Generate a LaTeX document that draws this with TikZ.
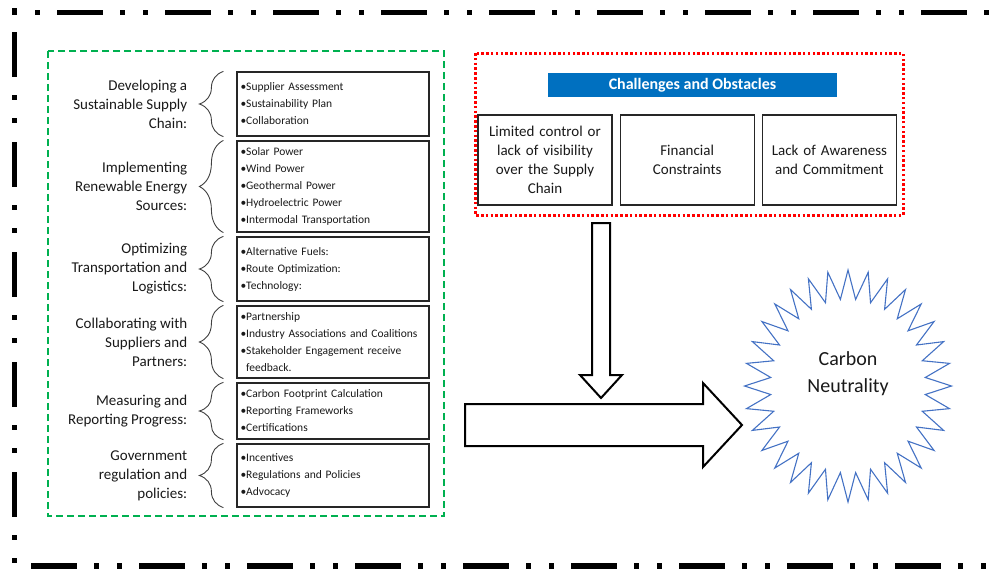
\documentclass[tikz,border=0pt]{standalone}
\usepackage{fontspec}
\setmainfont{Carlito}
\usetikzlibrary{positioning, decorations.pathreplacing}
\definecolor{framegreen}{RGB}{0,176,80}
\definecolor{titleblue}{RGB}{0,112,192}
\definecolor{starblue}{RGB}{68,114,196}

\begin{document}
\begin{tikzpicture}[
	x=1pt, y=-1pt,
	node distance=3.8pt,
	framepart/.style={line width=5pt, black},
	itembox/.style={draw=black!85, line width=1.2pt, minimum width=192pt, text width=185pt, inner xsep=3.5pt, inner ysep=0pt, align=left, text=black!90, font=\fontsize{11.5}{17}\selectfont},
	grouplabel/.style={align=right, inner sep=0pt, text=black!90, font=\fontsize{15}{19}\selectfont},
	groupbrace/.style={decorate, decoration={brace, amplitude=24pt}, line width=0.9pt, black!75},
	chalbox/.style={draw=black!85, line width=1.2pt, minimum width=134pt, minimum height=90pt, text width=126pt, align=center, inner sep=0pt, text=black!90, font=\fontsize{15}{19}\selectfont},
	blockarrow/.style={draw=black, line width=2pt, fill=white, line join=miter},
	starline/.style={draw=starblue, line width=1.1pt, line join=miter}
	]
	\useasboundingbox (0,0) rectangle (1000,568);
	\draw[framepart, dash pattern=on 5pt off 18pt on 5pt off 17pt on 46pt off 17pt] (12,12.5) -- (1000,12.5);
	\draw[framepart, dash pattern=on 45pt off 18pt on 5pt off 18pt on 5pt off 19pt, dash phase=86pt] (14.5,8) -- (14.5,566);
	\draw[framepart, line width=6pt, dash pattern=on 46pt off 17pt on 5pt off 18pt on 5pt off 17pt, dash phase=91pt] (14,566) -- (1000,566);

	\draw[framegreen, line width=2.2pt, dash pattern=on 7pt off 4pt] (48,51) rectangle (444,516);

	\node[itembox, minimum height=64pt] (supply) at (333,104) {\textbullet Supplier Assessment\\\textbullet Sustainability Plan\\\textbullet Collaboration};
	\node[itembox, minimum height=91pt, below=of supply] (energy) {\textbullet Solar Power\\\textbullet Wind Power\\\textbullet Geothermal Power\\\textbullet Hydroelectric Power\\\textbullet Intermodal Transportation};
	\node[itembox, minimum height=64pt, below=of energy] (transport) {\textbullet Alternative Fuels:\\\textbullet Route Optimization:\\\textbullet Technology:};
	\node[itembox, minimum height=72pt, below=of transport] (partners) {\textbullet Partnership\\\textbullet Industry Associations and Coalitions\\\textbullet Stakeholder Engagement receive\\\hphantom{\textbullet}feedback.};
	\node[itembox, minimum height=56pt, below=of partners] (progress) {\textbullet Carbon Footprint Calculation\\\textbullet Reporting Frameworks\\\textbullet Certifications};
	\node[itembox, minimum height=63pt, below=of progress] (policy) {\textbullet Incentives\\\textbullet Regulations and Policies\\\textbullet Advocacy};

	\node[grouplabel, left=49pt of supply] (supplylab) {Developing a\\Sustainable Supply\\Chain:};
	\node[grouplabel, left=49pt of energy] (energylab) {Implementing\\Renewable Energy\\Sources:};
	\node[grouplabel, left=49pt of transport] (transportlab) {Optimizing\\Transportation and\\Logistics:};
	\node[grouplabel, left=49pt of partners] (partnerslab) {Collaborating with\\Suppliers and\\Partners:};
	\node[grouplabel, left=49pt of progress] (progresslab) {Measuring and\\Reporting Progress:};
	\node[grouplabel, left=49pt of policy] (policylab) {Government\\regulation and\\policies:};

	\foreach \g in {supply,energy,transport,partners,progress,policy}
		\draw[groupbrace] ([xshift=-13pt]\g.south west) -- ([xshift=-13pt]\g.north west);

	\draw[red, line width=3pt, dash pattern=on 2.5pt off 2.3pt] (475,53) rectangle (903,215);
	\node[fill=titleblue, minimum width=289pt, minimum height=24pt, inner sep=0pt, text=white, font=\bfseries\fontsize{16}{19}\selectfont] (chaltitle) at (692.5,85) {Challenges and Obstacles};
	\node[chalbox] (visibility) at (545,160) {Limited control or\\lack of visibility\\over the Supply\\Chain};
	\node[chalbox, right=7pt of visibility] (finance) {Financial\\Constraints};
	\node[chalbox, right=7pt of finance] (awareness) {Lack of Awareness\\and Commitment};

	\draw[blockarrow] (592,223) -- (610,223) -- (610,375) -- (622,375) -- (601,398) -- (580,375) -- (592,375) -- cycle;
	\draw[blockarrow] (465,404) -- (703,404) -- (703,383) -- (742,425) -- (703,467) -- (703,446) -- (465,446) -- cycle;

	\draw[starline] plot[variable=\k, samples at={0,...,63}] ({848+103.5*(0.875+0.125*cos(\k*180))*cos(\k*5.625+90)}, {386+116*(0.875+0.125*cos(\k*180))*sin(\k*5.625+90)}) -- cycle;
	\node[align=center, inner sep=0pt, text=black!90, font=\fontsize{20}{27}\selectfont] (neutral) at (848,374) {Carbon\\Neutrality};
\end{tikzpicture}
\end{document}
